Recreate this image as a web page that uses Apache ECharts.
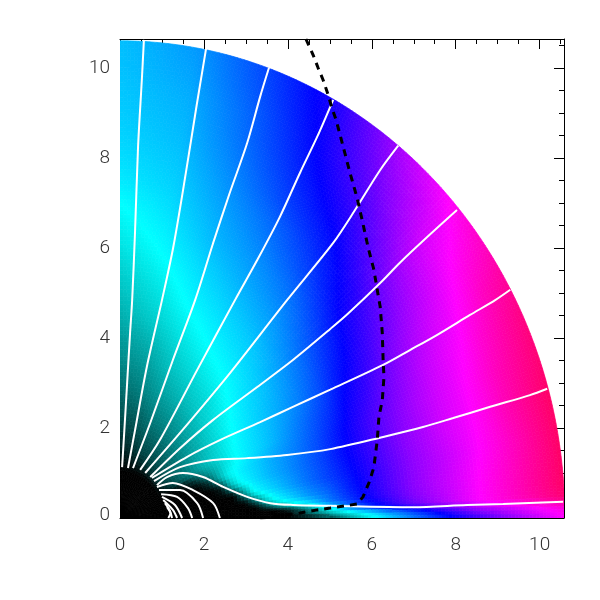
<!DOCTYPE html>
<html>
<head>
<meta charset="utf-8">
<script src="https://cdn.jsdelivr.net/npm/echarts@6/dist/echarts.min.js"></script>
<style>
    html, body { margin: 0; background: #fff; }
    #main { width: 600px; height: 600px; }
</style>
</head>
<body>
<div id="main"></div>
<script>
// colour scale: 0 black, 1 cyan, 2 blue, 3 magenta, 4 red
const colorScale = ['#000000', '#00ffff', '#0000ff', '#ff00ff', '#ff0000'];

const radii = [0, 1.05, 1.25, 1.5, 1.75, 2, 2.25, 2.5, 2.75, 3, 3.25, 3.5, 3.75, 4, 4.5, 5, 5.5, 6, 6.5, 7, 7.5, 8, 8.5, 9, 9.5, 10, 10.6];
const thetas = [90, 80, 70, 60, 50, 40, 30, 25, 20, 15, 10, 6, 4, 2.5, 1, 0];

// one row per theta, one value per radius
const field = [
    [0, 0,.05,.12,.18,.25,.30,.35,.39,.44,.49,.53,.57,.60,.68,.75,.81,.88,.94,1,1.08,1.13,1.17,1.2,1.22,1.24,1.25],
    [0, 0,.07,.15,.23,.30,.35,.41,.47,.52,.56,.61,.65,.70,.80,.87,.94,1.01,1.07,1.13,1.18,1.22,1.26,1.29,1.32,1.36,1.4],
    [0, 0,.1,.25,.32,.39,.46,.52,.58,.64,.69,.75,.79,.84,.93,1.02,1.1,1.18,1.27,1.33,1.4,1.47,1.54,1.6,1.64,1.70,1.76],
    [0, 0,.16,.28,.36,.44,.51,.58,.65,.72,.78,.83,.89,.94,1.04,1.13,1.23,1.33,1.42,1.52,1.62,1.75,1.85,1.94,2.02,2.08,2.15],
    [0, 0,.2,.32,.41,.5,.58,.66,.73,.8,.85,.91,.97,1.02,1.13,1.23,1.35,1.47,1.6,1.75,1.88,2,2.14,2.28,2.42,2.55,2.7],
    [0, 0,.25,.35,.44,.54,.63,.71,.8,.88,.95,1.02,1.08,1.14,1.25,1.39,1.54,1.71,1.88,2.06,2.2,2.39,2.56,2.72,2.85,2.94,3.1],
    [0, 0,.1,.3,.42,.55,.68,.78,.85,.95,1.03,1.1,1.17,1.24,1.38,1.53,1.71,1.93,2.11,2.29,2.5,2.66,2.8,2.92,3.07,3.25,3.4],
    [0, 0,0,.03,.1,.27,.53,.69,.87,.97,1.05,1.13,1.2,1.28,1.46,1.64,1.82,2.04,2.21,2.42,2.59,2.75,2.88,3,3.18,3.33,3.5],
    [0, 0,0,0,0,.02,.2,.63,.93,1.04,1.13,1.21,1.3,1.38,1.53,1.71,1.92,2.12,2.32,2.5,2.66,2.8,2.92,3.07,3.25,3.39,3.55],
    [0, 0,0,0,0,0,0,.1,.7,1,1.1,1.21,1.31,1.39,1.57,1.75,1.96,2.15,2.35,2.54,2.68,2.83,2.94,3.09,3.28,3.43,3.6],
    [0, 0,0,0,0,0,0,0,0,.5,.97,1.09,1.2,1.32,1.54,1.73,1.92,2.12,2.33,2.53,2.67,2.8,2.94,3.09,3.25,3.41,3.6],
    [0, 0,0,0,0,0,0,0,0,0,.3,.74,.98,1.11,1.39,1.59,1.86,2.09,2.32,2.53,2.68,2.82,2.97,3.12,3.27,3.42,3.6],
    [0, 0,0,0,0,0,0,0,0,0,0,.25,.55,.8,1.08,1.5,1.78,2.05,2.27,2.5,2.66,2.81,2.97,3.12,3.27,3.42,3.6],
    [0, 0,0,0,0,0,0,0,0,0,0,0,0,.08,.5,1,1.5,1.86,2.15,2.4,2.61,2.79,2.96,3.11,3.25,3.38,3.55],
    [0, 0,0,0,0,0,0,0,0,0,0,0,0,0,.35,.64,.86,1.13,1.44,1.72,2,2.25,2.5,2.65,2.8,2.94,3.1],
    [0, 0,0,0,0,0,0,0,0,0,0,0,0,0,0,.2,.6,.9,1.2,1.5,1.75,2,2.2,2.42,2.6,2.78,3]
];

// white field lines, open ones first
const fieldLines = [
    [[.05,1.13],[.10,1.89],[.17,3.0],[.24,4.11],[.29,4.84],[.36,6.4],[.43,8.24],[.52,9.73],[.57,10.62]],
    [[.19,1.11],[.36,1.96],[.64,3.36],[1.0,4.84],[1.27,6.02],[1.57,7.67],[1.82,9.13],[2.05,10.42]],
    [[.31,1.11],[.72,2.11],[1.26,3.51],[1.79,4.84],[2.22,6.11],[2.6,7.18],[3.03,8.33],[3.34,9.36],[3.55,10.0]],
    [[.48,1.07],[.95,1.73],[1.84,3.29],[2.74,4.84],[3.27,5.73],[3.81,6.69],[4.29,7.67],[4.7,8.47],[5.08,9.29]],
    [[.6,1.0],[1.43,1.89],[2.62,3.22],[3.98,4.84],[5.08,6.11],[5.6,6.84],[6.2,7.73],[6.63,8.27]],
    [[.72,.91],[1.43,1.55],[2.22,2.18],[3.27,2.91],[4.12,3.51],[5.01,4.2],[5.41,4.52],[6.2,5.22],[6.67,5.67],[7.32,6.24],[8.03,6.84]],
    [[.76,.89],[1.6,1.36],[2.38,1.73],[3.34,2.13],[4.12,2.47],[5.01,2.85],[6.27,3.4],[6.91,3.73],[7.56,4.07],[8.34,4.51],[8.94,4.84],[9.3,5.07]],
    [[.81,.82],[1.43,1.13],[2.22,1.29],[3.03,1.33],[3.98,1.4],[5.01,1.53],[6.27,1.8],[7.22,2.02],[7.94,2.22],[8.82,2.47],[9.77,2.73],[10.18,2.87]],
    [[.88,.73],[1.12,.91],[1.5,1.0],[1.98,.91],[2.46,.69],[3.03,.47],[3.58,.33],[4.12,.29],[5.01,.27],[6.98,.24],[8.27,.29],[9.13,.31],[10.56,.36]],
    [[.88,.69],[1.26,.78],[1.74,.62],[2.22,.33],[2.38,0]],
    [[.93,.62],[1.43,.62],[1.84,.33],[1.98,0]],
    [[.98,.53],[1.36,.47],[1.62,.22],[1.72,0]],
    [[1.0,.47],[1.31,.29],[1.48,0]],
    [[1.03,.4],[1.26,.18],[1.36,0]],
    [[1.07,.33],[1.19,.16],[1.24,0]],
    [[1.12,.24],[1.2,.1],[1.15,0]]
];

// black dashed curve
const dashedCurve = [[4.43,10.64],[4.6,10.29],[4.72,10],[4.84,9.73],[4.96,9.4],[5.05,9.11],[5.15,8.84],[5.32,8.24],[5.48,7.67],[5.65,7.11],[5.77,6.62],[5.91,6.02],[6.05,5.51],[6.15,4.96],[6.2,4.69],[6.25,4.11],[6.27,3.51],[6.29,3.13],[6.25,2.62],[6.17,2.24],[6.13,1.73],[6.05,1.13],[5.94,.8],[5.79,.47],[5.65,.31],[5.01,.22],[4.7,.18],[4.29,.11],[3.98,.07],[3.65,.02],[3.34,0]];

const xMax = 10.58;
const yMax = 10.64;
const labelFont = { color: '#333', fontFamily: 'Roboto', fontWeight: 300, fontSize: 19 };

function shade(i, j, u, w) {
    const a = field[j][i] + (field[j][i + 1] - field[j][i]) * u;
    const b = field[j + 1][i] + (field[j + 1][i + 1] - field[j + 1][i]) * u;
    return a + (b - a) * w;
}

function renderCell(params, api) {
    const i = api.value(0);
    const j = api.value(1);
    const r0 = radii[i], r1 = radii[i + 1];
    const t0 = thetas[j], t1 = thetas[j + 1];
    // smooth shading inside a table cell, the way the original image is smooth
    const nr = Math.ceil((r1 - r0) / 0.09);
    const nt = Math.max(1, Math.ceil((t0 - t1) * Math.PI / 180 * r1 / 0.09));
    const at = (r, t) => {
        const a = t * Math.PI / 180;
        return api.coord([r * Math.cos(a), r * Math.sin(a)]);
    };
    const children = [];
    for (let m = 0; m < nr; m++) {
        for (let n = 0; n < nt; n++) {
            const ra = r0 + (r1 - r0) * m / nr, rb = r0 + (r1 - r0) * (m + 1) / nr;
            const ta = t0 + (t1 - t0) * n / nt, tb = t0 + (t1 - t0) * (n + 1) / nt;
            const v = shade(i, j, (m + 0.5) / nr, (n + 0.5) / nt);
            const c = echarts.color.lerp(Math.min(1, v / 4), colorScale);
            children.push({
                type: 'polygon',
                shape: { points: [at(ra, ta), at(rb, ta), at(rb, tb), at(ra, tb)] },
                style: { fill: c, stroke: c, lineWidth: 0.7 },
                silent: true
            });
        }
    }
    return { type: 'group', children: children };
}

const cells = [];
for (let j = 0; j < thetas.length - 1; j++) {
    for (let i = 0; i < radii.length - 1; i++) cells.push([i, j]);
}

const series = [{
    type: 'custom',
    data: cells,
    renderItem: renderCell,
    clip: true,
    silent: true,
    z: 2
}];
fieldLines.forEach(function (line) {
    series.push({
        type: 'line',
        data: line,
        showSymbol: false,
        silent: true,
        smooth: 0.3,
        lineStyle: { color: '#fff', width: 2 },
        z: 3
    });
});
series.push({
    type: 'line',
    data: dashedCurve,
    showSymbol: false,
    silent: true,
    lineStyle: { color: '#000', width: 3, type: [7, 6] },
    z: 4
});

const hidden = { show: false };
const noLine = { show: false, onZero: false };
const line1 = { show: true, onZero: false, lineStyle: { color: '#000', width: 1 } };
const plotBox = { left: 120, top: 39, width: 444, height: 479 };

var myChart = echarts.init(document.getElementById('main'), null, { renderer: 'canvas' });
myChart.setOption({
    animation: false,
    backgroundColor: '#fff',
    // second grid only carries the short ticks, a grid can't have two axes on one side
    grid: [plotBox, plotBox],
    xAxis: [
        { type: 'value', min: 0, max: xMax, interval: 2, position: 'bottom', splitLine: hidden, axisLine: line1, axisTick: hidden,
          axisLabel: Object.assign({ margin: 18, showMaxLabel: false }, labelFont) },
        { type: 'value', min: 0, max: xMax, interval: 2, position: 'top', splitLine: hidden, axisLine: line1, axisLabel: hidden,
          axisTick: { show: true, inside: true, length: 10, lineStyle: { color: '#000' } } },
        { gridIndex: 1, type: 'value', min: 0, max: xMax, interval: 0.5, position: 'top', splitLine: hidden, axisLine: noLine, axisLabel: hidden,
          axisTick: { show: true, inside: true, length: 5, lineStyle: { color: '#000' } } }
    ],
    yAxis: [
        { type: 'value', min: 0, max: yMax, interval: 2, position: 'left', splitLine: hidden, axisLine: noLine, axisTick: hidden,
          axisLabel: Object.assign({ margin: 10, lineHeight: 6, padding: [4, 0, 0, 0], showMaxLabel: false, verticalAlignMinLabel: 'bottom' }, labelFont) },
        { type: 'value', min: 0, max: yMax, interval: 2, position: 'right', splitLine: hidden, axisLine: line1, axisLabel: hidden,
          axisTick: { show: true, inside: true, length: 10, lineStyle: { color: '#000' } } },
        { gridIndex: 1, type: 'value', min: 0, max: yMax, interval: 0.5, position: 'right', splitLine: hidden, axisLine: noLine, axisLabel: hidden,
          axisTick: { show: true, inside: true, length: 5, lineStyle: { color: '#000' } } }
    ],
    series: series
});
</script>
</body>
</html>
